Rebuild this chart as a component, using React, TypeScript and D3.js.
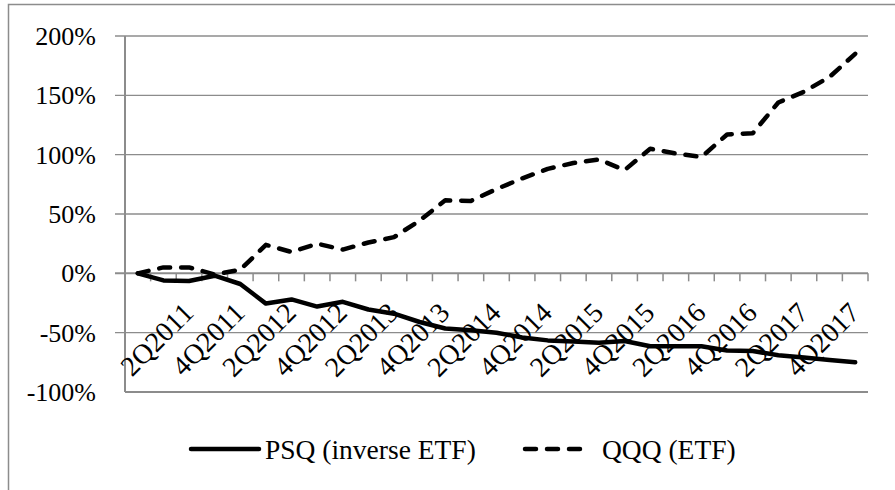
import * as d3 from "d3";

// quarter categories (first one is the starting point, shown without a label)
const quarters = [
  "4Q2010",
  "1Q2011", "2Q2011", "3Q2011", "4Q2011",
  "1Q2012", "2Q2012", "3Q2012", "4Q2012",
  "1Q2013", "2Q2013", "3Q2013", "4Q2013",
  "1Q2014", "2Q2014", "3Q2014", "4Q2014",
  "1Q2015", "2Q2015", "3Q2015", "4Q2015",
  "1Q2016", "2Q2016", "3Q2016", "4Q2016",
  "1Q2017", "2Q2017", "3Q2017", "4Q2017",
];

// cumulative return, %
const psq = [
  0, -6, -6.5, -2, -9, -25.5, -22, -28, -24, -30.5, -34, -41, -46.5, -48,
  -50, -54, -56.5, -57.5, -58.5, -57, -61.5, -61.5, -61.5, -65, -65.5, -69, -71, -73, -75,
];
const qqq = [
  0, 5, 5, -1, 3, 24, 18, 25, 20, 26, 30.5, 44.5, 61.5, 61,
  71, 80, 88, 93, 96, 87, 105, 101, 98, 117, 118, 144, 153, 165.5, 185,
];

const yTicks = [-100, -50, 0, 50, 100, 150, 200];
const seriesNames = ["PSQ (inverse ETF)", "QQQ (ETF)"];

const W = 895;
const H = 490;
const FONT = "'Liberation Serif', 'Times New Roman', serif";

export default function App() {
  const left = 125;
  const right = 868;
  const top = 36;
  const bottom = 392;

  const x = d3.scaleBand<string>().domain(quarters).range([left, right]).padding(0);
  const y = d3.scaleLinear().domain([-100, 200]).range([bottom, top]);
  const cx = (q: string) => (x(q) || 0) + x.bandwidth() / 2;

  const line = d3
    .line<number>()
    .x((_, i) => cx(quarters[i]))
    .y((d) => y(d));

  const grid = "#8c8c8c";
  const zeroY = y(0);
  const boundaries = quarters.map((q) => (x(q) || 0) + x.bandwidth());

  return (
    <div style={{ position: "absolute", left: 0, top: 0 }}>
      <svg width={W} height={H} style={{ display: "block", background: "#fff" }}>
        {/* outer frame */}
        <rect x={8.5} y={4.5} width={W + 20} height={H + 20} fill="none" stroke={grid} strokeWidth={1.5} />

        {/* gridlines */}
        {yTicks.map((t) => (
          <line
            key={t}
            x1={t === -100 ? left : left - 10}
            x2={right}
            y1={y(t)}
            y2={y(t)}
            stroke={grid}
            strokeWidth={t === 0 || t === -100 ? 2 : 1.3}
          />
        ))}
        {/* y axis */}
        <line x1={left} x2={left} y1={top} y2={bottom} stroke={grid} strokeWidth={2} />
        {/* category ticks on the zero line */}
        {boundaries.map((b, i) => (
          <line key={i} x1={b} x2={b} y1={zeroY} y2={zeroY + 8} stroke={grid} strokeWidth={1.5} />
        ))}

        {/* y tick labels */}
        {yTicks.map((t) => (
          <text
            key={t}
            x={96}
            y={y(t)}
            dy="0.35em"
            textAnchor="end"
            fontFamily={FONT}
            fontSize={26}
            fill="#000"
          >
            {`${t}%`}
          </text>
        ))}

        {/* lines */}
        <path d={line(psq) || ""} fill="none" stroke="#000" strokeWidth={4.5} strokeLinejoin="round" strokeLinecap="round" />
        <path
          d={line(qqq) || ""}
          fill="none"
          stroke="#000"
          strokeWidth={4.5}
          strokeDasharray="11,11"
          strokeLinejoin="round"
          strokeLinecap="round"
        />

        {/* x tick labels */}
        {quarters.map((q, i) =>
          i > 0 && i % 2 === 0 ? (
            <text
              key={q}
              transform={`translate(${cx(q) + 6},${zeroY + 41}) rotate(-45)`}
              textAnchor="end"
              fontFamily={FONT}
              fontSize={28}
              fill="#000"
            >
              {q}
            </text>
          ) : null
        )}

        {/* legend */}
        <line x1={191} x2={259} y1={449} y2={449} stroke="#000" strokeWidth={4.5} strokeLinecap="round" />
        <text x={265} y={449} dy="0.35em" fontFamily={FONT} fontSize={27.5} fill="#000">
          {seriesNames[0]}
        </text>
        <line
          x1={525}
          x2={587}
          y1={449}
          y2={449}
          stroke="#000"
          strokeWidth={4.5}
          strokeLinecap="round"
          strokeDasharray="11,11"
        />
        <text x={602} y={449} dy="0.35em" fontFamily={FONT} fontSize={27.5} fill="#000">
          {seriesNames[1]}
        </text>
      </svg>
    </div>
  );
}
